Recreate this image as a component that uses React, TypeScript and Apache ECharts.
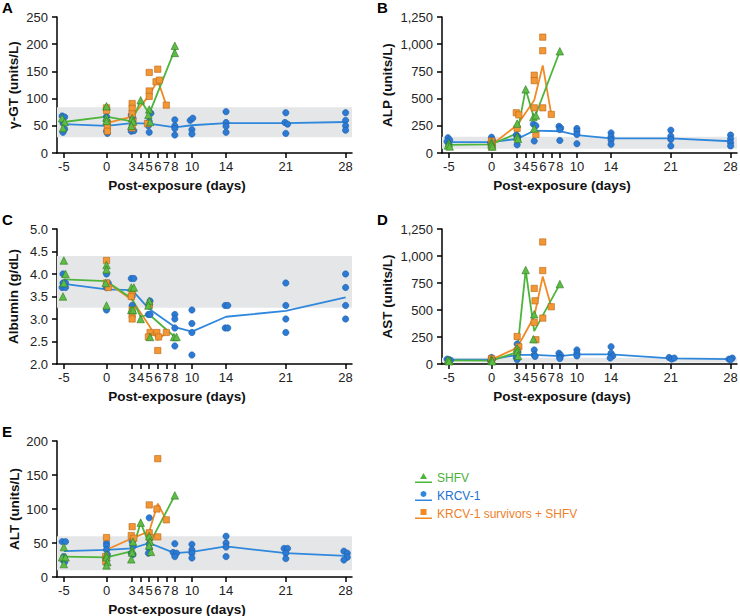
import React, { useEffect, useRef } from "react";
import * as echarts from "echarts";

// ---------- shared ticks ----------
const dayTicks = [-5, 0, 3, 4, 5, 6, 7, 8, 10, 14, 21, 28];
const groupNames = ["SHFV", "KRCV-1", "KRCV-1 survivors + SHFV"];

// ---------- A: γ-GT ----------
const ggtRange = [29, 84];
const ggtKrcvPts = [[-5.2,68],[-4.9,66],[-5.1,55],[-4.9,44],[-5.1,38],[0,67],[0,60],[0.1,52],[0,40],[0.1,36],[2.9,70],[3.1,64],[3,45],[2.9,40],[3.2,41],[5.2,73],[5,58],[4.9,50],[5,38],[8,61],[8,50],[8,45],[8,33],[9.8,60],[10.1,64],[10,43],[10,35],[14,76],[14,56],[14,49],[14,38],[21,74],[20.9,56],[21.2,53],[21,36],[28,74],[28,60],[28,50],[28,42]];
const ggtKrcvMean = [[-5,53],[0,50],[3,55],[5,54],[8,47],[10,51],[14,55],[21,55],[28,57]];
const ggtShfvPts = [[-5.2,64],[-4.9,57],[-5.1,46],[0,86],[0,65],[0,59],[3,64],[3.1,58],[2.9,50],[4,97],[5,80],[4.9,70],[5.1,57],[8,197],[8,184]];
const ggtShfvMean = [[-5,57],[0,67],[3,58],[4,97],[5,72],[8,190]];
const ggtSurvPts = [[0,83],[0,78],[0.1,55],[0.1,48],[0.1,40],[3,91],[3,82],[3,72],[3.1,58],[3,46],[5,148],[5,114],[5,104],[4.8,54],[6,154],[5.8,131],[6.2,134],[7,88]];
const ggtSurvMean = [[0,55],[3,67],[5,106],[6,134],[7,88]];

// ---------- B: ALP ----------
const alpRange = [40, 150];
const alpKrcvPts = [[-5.1,140],[-4.9,120],[-5.2,105],[-5,85],[0,145],[0.1,120],[-0.1,95],[0,75],[2.9,165],[3.1,150],[3,140],[3,75],[4.9,265],[5.2,250],[5,110],[7.9,245],[8.1,230],[8,215],[8,115],[10,225],[10,200],[10,170],[10,85],[14,185],[14,150],[14,120],[14,80],[21,210],[21,155],[21,125],[21,65],[28,165],[28,130],[28,95],[28,65]];
const alpKrcvMean = [[-5,100],[0,100],[3,130],[5,205],[8,200],[10,165],[14,135],[21,135],[28,108]];
const alpShfvPts = [[-5,90],[-5.1,70],[-4.9,60],[0,100],[0,80],[0.1,60],[3,270],[3,150],[3.1,130],[4,585],[4.9,330],[5.2,345],[5,225],[8,935]];
const alpShfvMean = [[-5,75],[0,80],[3,180],[4,585],[5,315],[8,935]];
const alpSurvPts = [[0,110],[0,90],[0.1,70],[0,55],[2.9,370],[3.2,350],[3,225],[5,715],[5,665],[5,415],[5.2,170],[6,1065],[6,940],[6,415],[7,355]];
const alpSurvMean = [[0,75],[3,255],[5,485],[6,805],[7,355]];

// ---------- C: Albumin ----------
const albRange = [3.25, 4.4];
const albKrcvPts = [[-5.1,4.0],[-5.1,3.8],[-4.8,3.8],[-5.2,3.7],[-4.8,3.7],[0,4.0],[0.2,3.8],[0,3.7],[0,3.2],[2.9,3.9],[3.2,3.9],[3,3.5],[3,3.3],[5.1,3.4],[5,3.3],[4.9,3.1],[5.1,3.1],[8,3.1],[8,3.0],[8,2.8],[8,2.4],[10,3.2],[10,2.9],[10,2.7],[10,2.2],[13.9,3.3],[14.2,3.3],[13.9,2.8],[14.2,2.8],[21,3.8],[21,3.3],[21,3.0],[21,2.7],[28,4.0],[28,3.7],[28,3.3],[28,3.0]];
const albKrcvMean = [[-5,3.78],[0,3.66],[3,3.64],[5,3.22],[8,2.82],[10,2.72],[14,3.05],[21,3.18],[28,3.48]];
const albShfvPts = [[-5,4.3],[-4.8,4.0],[-5,3.8],[-5.1,3.5],[0,4.2],[0,4.1],[-0.1,3.8],[0,3.3],[2.9,3.7],[3.2,3.7],[2.9,3.2],[3.1,3.2],[4,3.0],[5,3.4],[4.9,3.3],[5.1,2.6],[7.9,2.6],[8.2,2.6]];
const albShfvMean = [[-5,3.88],[0,3.84],[3,3.45],[4,3.05],[5,3.1],[8,2.6]];
const albSurvPts = [[0,4.3],[0,3.8],[0.2,3.7],[3,3.6],[2.9,3.5],[3,3.2],[3,3.1],[3,3.0],[5,3.3],[5.1,2.7],[4.9,2.6],[5.9,2.7],[6.1,2.6],[6,2.3],[7,2.7]];
const albSurvMean = [[0,3.82],[3,3.42],[5,2.85],[6,2.53],[7,2.7]];

// ---------- D: AST ----------
const astRange = [14, 58];
const astKrcvPts = [[-5.2,45],[-5,40],[-4.8,35],[-5,30],[0,60],[0.1,45],[0,35],[-0.1,30],[3,185],[3.1,110],[2.9,60],[3,40],[5,130],[5,85],[5.1,70],[7.9,100],[8.1,80],[8,60],[8,50],[10,130],[10,100],[10,75],[14,160],[14,100],[14.2,75],[13.9,55],[20.8,60],[21.1,45],[21.4,55],[27.8,45],[28.2,55],[28,40]];
const astKrcvMean = [[-5,40],[0,42],[3,85],[5,85],[8,72],[10,90],[14,90],[21,52],[28,45]];
const astShfvPts = [[-5.1,40],[-4.9,30],[-5,25],[0,40],[0,30],[0.1,25],[3,145],[3,115],[3.1,75],[4,870],[5,460],[4.9,230],[8,740]];
const astShfvMean = [[-5,33],[0,32],[3,110],[4,870],[5,305],[8,740]];
const astSurvPts = [[0,50],[0,35],[3,255],[3.2,160],[3,125],[5,700],[5.1,585],[5,385],[5.2,225],[6,1130],[6,865],[6,425],[7,530]];
const astSurvMean = [[0,40],[3,150],[5,440],[6,810],[7,530]];

// ---------- E: ALT ----------
const altRange = [10, 60];
const altKrcvPts = [[-5.2,52],[-4.8,52],[-5,30],[-5.1,25],[-4.9,22],[0,50],[0,46],[0,40],[0.1,33],[3,52],[3.1,45],[2.9,35],[3.1,33],[5,87],[5,49],[5,42],[4.9,35],[8,49],[7.8,36],[8.2,35],[8,30],[10,48],[10,40],[10,35],[10,28],[14,60],[14,50],[14,44],[14,30],[20.8,42],[21.2,42],[21,35],[21,27],[27.8,38],[28.2,35],[28.2,29],[27.8,25]];
const altKrcvMean = [[-5,38],[0,40],[3,42],[5,50],[8,35],[10,37],[14,45],[21,35],[28,31]];
const altShfvPts = [[-5,44],[-5.2,29],[-4.8,29],[-5,19],[0,33],[0,29],[0.1,22],[0,17],[3.1,52],[3,40],[3,36],[2.9,26],[4,80],[5,60],[5.1,52],[5,46],[5.2,37],[8,120]];
const altShfvMean = [[-5,30],[0,29],[3,38],[4,80],[5,48],[8,120]];
const altSurvPts = [[0,58],[-0.1,30],[-0.1,23],[3,74],[2.9,61],[3.2,57],[5,106],[5,65],[5.1,58],[6,174],[5.9,100],[6,59],[7,84]];
const altSurvMean = [[0,40],[3,57],[5,67],[6,108],[7,84]];

// ---------- styles ----------
const FONT = "'Liberation Sans', Arial, Helvetica, sans-serif";
const GROUP_STYLE: Record<string, any> = {
  "SHFV": { line: "#4DB53C", fill: "#5DBB46", border: "#2E7A20", symbol: "triangle", size: 7.5, text: "#4CAF3A" },
  "KRCV-1": { line: "#2F88DC", fill: "#2B7AD3", border: "#1B5CAA", symbol: "circle", size: 6.3, text: "#2271CF" },
  "KRCV-1 survivors + SHFV": { line: "#F08A24", fill: "#F39634", border: "#B8661A", symbol: "rect", size: 6.3, text: "#EE7F2A" },
};

const commaFmt = (v: number) => v.toLocaleString("en-US");
const intFmt = (v: number) => String(v);
const oneDec = (v: number) => v.toFixed(1);

const panels = [
  { letter: "A", yName: "γ-GT (units/L)", left: 57, top: 17, height: 136, min: 0, max: 250, interval: 50, fmt: intFmt, gap: 37, range: ggtRange,
    groups: { "KRCV-1": [ggtKrcvPts, ggtKrcvMean], "KRCV-1 survivors + SHFV": [ggtSurvPts, ggtSurvMean], "SHFV": [ggtShfvPts, ggtShfvMean] } },
  { letter: "B", yName: "ALP (units/L)", left: 442, top: 17, height: 136, min: 0, max: 1250, interval: 250, fmt: commaFmt, gap: 48, range: alpRange,
    groups: { "KRCV-1": [alpKrcvPts, alpKrcvMean], "KRCV-1 survivors + SHFV": [alpSurvPts, alpSurvMean], "SHFV": [alpShfvPts, alpShfvMean] } },
  { letter: "C", yName: "Albumin (g/dL)", left: 57, top: 229, height: 135, min: 2, max: 5, interval: 0.5, fmt: oneDec, gap: 37, range: albRange,
    groups: { "KRCV-1": [albKrcvPts, albKrcvMean], "KRCV-1 survivors + SHFV": [albSurvPts, albSurvMean], "SHFV": [albShfvPts, albShfvMean] } },
  { letter: "D", yName: "AST (units/L)", left: 442, top: 229, height: 135, min: 0, max: 1250, interval: 250, fmt: commaFmt, gap: 48, range: astRange,
    groups: { "KRCV-1": [astKrcvPts, astKrcvMean], "KRCV-1 survivors + SHFV": [astSurvPts, astSurvMean], "SHFV": [astShfvPts, astShfvMean] } },
  { letter: "E", yName: "ALT (units/L)", left: 57, top: 441, height: 136, min: 0, max: 200, interval: 50, fmt: intFmt, gap: 36, range: altRange,
    groups: { "KRCV-1": [altKrcvPts, altKrcvMean], "KRCV-1 survivors + SHFV": [altSurvPts, altSurvMean], "SHFV": [altShfvPts, altShfvMean] } },
];

const GRID_W = 295;
const X_MIN = -5.8;
const X_MAX = 28.75;

function buildOption() {
  const grid: any[] = [];
  const xAxis: any[] = [];
  const yAxis: any[] = [];
  const series: any[] = [];
  const graphic: any[] = [];
  const axisLineStyle = { color: "#000", width: 1.5 };

  panels.forEach((p, i) => {
    grid.push({ left: p.left, top: p.top, width: GRID_W, height: p.height, outerBoundsMode: "none", containLabel: false });
    xAxis.push({
      gridIndex: i, type: "value", min: X_MIN, max: X_MAX,
      axisLine: { show: true, onZero: false, lineStyle: axisLineStyle },
      axisTick: { show: true, length: 5, customValues: dayTicks, lineStyle: axisLineStyle },
      axisLabel: { customValues: dayTicks, margin: 7, color: "#222", fontSize: 13, fontFamily: FONT, hideOverlap: false },
      splitLine: { show: false },
    });
    yAxis.push({
      gridIndex: i, type: "value", min: p.min, max: p.max, interval: p.interval,
      name: p.yName, nameLocation: "middle", nameGap: p.gap, nameMoveOverlap: false,
      nameTextStyle: { fontFamily: FONT, fontWeight: "bold", fontSize: 13.5, color: "#111" },
      axisLine: { show: true, onZero: false, lineStyle: axisLineStyle },
      axisTick: { show: true, length: 5, lineStyle: axisLineStyle },
      axisLabel: { formatter: p.fmt, margin: 9, color: "#222", fontSize: 13, fontFamily: FONT },
      splitLine: { show: false },
    });
    // reference band
    series.push({
      type: "scatter", xAxisIndex: i, yAxisIndex: i, z: 1, silent: true,
      data: [[X_MIN, p.min]], symbolSize: 0,
      markArea: { silent: true, itemStyle: { color: "#E5E6E7" }, data: [[{ yAxis: p.range[0] }, { yAxis: p.range[1] }]] },
    });
    const order = ["KRCV-1", "KRCV-1 survivors + SHFV", "SHFV"];
    order.forEach((g) => {
      const st = GROUP_STYLE[g];
      const [, mean] = (p.groups as any)[g];
      series.push({
        name: g, type: "line", xAxisIndex: i, yAxisIndex: i, z: 3, data: mean,
        showSymbol: false, symbol: "none", lineStyle: { color: st.line, width: 1.8 }, itemStyle: { color: st.line },
      });
    });
    order.forEach((g) => {
      const st = GROUP_STYLE[g];
      const [pts] = (p.groups as any)[g];
      series.push({
        name: g, type: "scatter", xAxisIndex: i, yAxisIndex: i, z: 4, data: pts,
        symbol: st.symbol, symbolSize: st.size,
        itemStyle: { color: st.fill, borderColor: st.border, borderWidth: 0.6, opacity: 1 },
      });
    });
    // panel letter
    graphic.push({
      type: "text", x: p.left < 200 ? 2 : 377, y: p.top - 17,
      style: { text: p.letter, font: `bold 15px ${FONT}`, fill: "#000", textAlign: "left", textVerticalAlign: "top" },
    });
    // x-axis title
    graphic.push({
      type: "text", x: p.left + 120, y: p.top + p.height + 32,
      style: { text: "Post-exposure (days)", font: `bold 13.5px ${FONT}`, fill: "#111", textAlign: "center", textVerticalAlign: "middle" },
    });
  });

  const icons: Record<string, string> = {
    "SHFV": "path://M8.5,0 L12,6 L5,6 Z M0,8.5 L17,8.5 L17,10 L0,10 Z",
    "KRCV-1": "path://M8.5,0 A3,3 0 1 1 8.49,0 Z M0,8.5 L17,8.5 L17,10 L0,10 Z",
    "KRCV-1 survivors + SHFV": "path://M5.5,0 L11.5,0 L11.5,6 L5.5,6 Z M0,8.5 L17,8.5 L17,10 L0,10 Z",
  };

  return {
    animation: false,
    grid, xAxis, yAxis, series, graphic,
    legend: {
      orient: "vertical", left: 415, top: 472, padding: 0, itemWidth: 17, itemHeight: 10, itemGap: 6,
      selectedMode: false,
      textStyle: { fontSize: 12, fontFamily: FONT },
      data: groupNames.map((g) => ({
        name: g, icon: icons[g],
        itemStyle: { color: GROUP_STYLE[g].line, borderWidth: 0 },
        textStyle: { color: GROUP_STYLE[g].text },
      })),
    },
  };
}

export default function App() {
  const ref = useRef<HTMLDivElement>(null);
  useEffect(() => {
    document.body.style.margin = "0";
    if (!ref.current) return;
    const chart = echarts.init(ref.current, undefined, { renderer: "svg" });
    chart.setOption(buildOption() as any);
    return () => chart.dispose();
  }, []);
  return <div ref={ref} style={{ width: 740, height: 616, background: "#fff" }} />;
}
